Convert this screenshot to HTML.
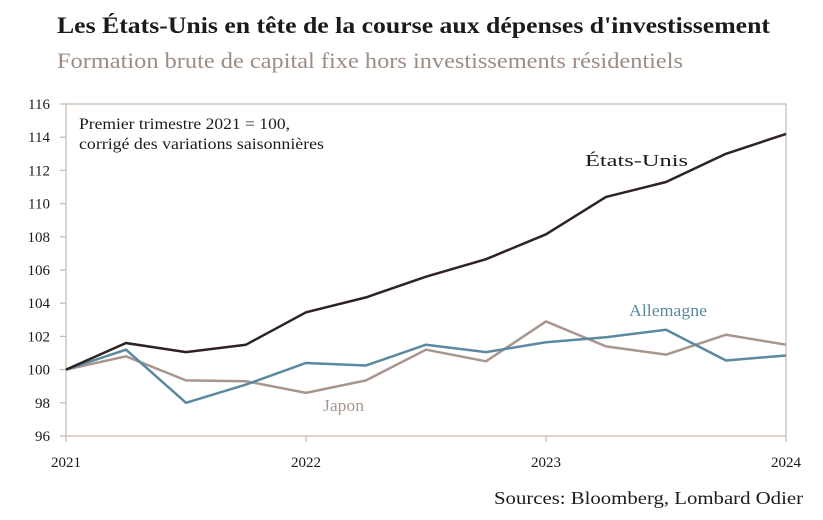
<!DOCTYPE html>
<html><head><meta charset="utf-8"><style>
body{margin:0;background:#fff;width:823px;height:515px;overflow:hidden;font-family:"Liberation Serif",serif}
</style></head><body>
<svg id="chart" width="823" height="515" xmlns="http://www.w3.org/2000/svg" font-family="Liberation Serif, serif">
<text x="57" y="33" font-size="23" font-weight="bold" fill="#1d1a1a" textLength="713" lengthAdjust="spacingAndGlyphs">Les États-Unis en tête de la course aux dépenses d'investissement</text>
<text x="57" y="68" font-size="22" fill="#9d8c84" textLength="626" lengthAdjust="spacingAndGlyphs">Formation brute de capital fixe hors investissements résidentiels</text>
<text x="79" y="129" font-size="16" fill="#1d1a1a" textLength="211" lengthAdjust="spacingAndGlyphs">Premier trimestre 2021 = 100,</text>
<text x="79" y="149" font-size="16" fill="#1d1a1a" textLength="245" lengthAdjust="spacingAndGlyphs">corrigé des variations saisonnières</text>
<text x="494" y="504" font-size="18" fill="#1d1a1a" textLength="309" lengthAdjust="spacingAndGlyphs">Sources: Bloomberg, Lombard Odier</text>
<g id="axes"></g><g id="series"></g>
<text x="585" y="166" font-size="17" fill="#1d1a1a" textLength="103" lengthAdjust="spacingAndGlyphs">États-Unis</text>
<text x="629" y="316" font-size="17" fill="#5b8aa0" textLength="78" lengthAdjust="spacingAndGlyphs">Allemagne</text>
<text x="323" y="411" font-size="17" fill="#a8968e" textLength="41" lengthAdjust="spacingAndGlyphs">Japon</text>
</svg>
<script>
const years=["2021","2022","2023","2024"];
const yTicks=[96,98,100,102,104,106,108,110,112,114,116];
const us=[100,101.6,101.05,101.5,103.45,104.35,105.6,106.65,108.15,110.4,111.3,113,114.2];
const germany=[100,101.2,98.0,99.1,100.4,100.25,101.5,101.05,101.65,101.95,102.4,100.55,100.85];
const japan=[100,100.8,99.35,99.3,98.6,99.35,101.2,100.5,102.9,101.4,100.9,102.1,101.5];
const NS="http://www.w3.org/2000/svg";
const X0=66,X1=786,Y0=436,Y1=104;
const xq=i=>X0+(X1-X0)*i/12;
const yv=v=>Y0-(v-96)/20*(Y0-Y1);
const ax=document.getElementById('axes');
function mk(tag,at,parent){const e=document.createElementNS(NS,tag);for(const k in at)e.setAttribute(k,at[k]);parent.appendChild(e);return e;}
const AC="#cbbbb2";
const frame=mk('rect',{x:X0,y:Y1,width:X1-X0,height:Y0-Y1,fill:'none',stroke:AC,'stroke-width':1.3},ax);


yTicks.forEach(t=>{
  const l=mk('line',{x1:X0-6,x2:X0,y1:yv(t),y2:yv(t),stroke:AC,'stroke-width':1.3},ax);
  
  
  const tx=mk('text',{x:50,y:yv(t)+5,'font-size':15,'text-anchor':'end',fill:'#1d1a1a'},ax);
  tx.textContent=t;
  
  
});
years.forEach((yr,i)=>{
  const x=xq(i*4);
  const l=mk('line',{x1:x,x2:x,y1:Y0,y2:Y0+6,stroke:AC,'stroke-width':1.3},ax);
  
  
  const tx=mk('text',{x:x,y:467,'font-size':15,'text-anchor':'middle',fill:'#1d1a1a'},ax);
  tx.textContent=yr;
  
  
});
const sg=document.getElementById('series');
[[japan,'#a8968e','line-japan'],[germany,'#5b8aa0','line-germany'],[us,'#2e2224','line-us']].forEach(([d,c,n])=>{
  const p=mk('polyline',{points:d.map((v,i)=>xq(i)+','+yv(v)).join(' '),fill:'none',stroke:c,'stroke-width':2.5,'stroke-linejoin':'round'},sg);
  
  
});
</script>
</body></html>
